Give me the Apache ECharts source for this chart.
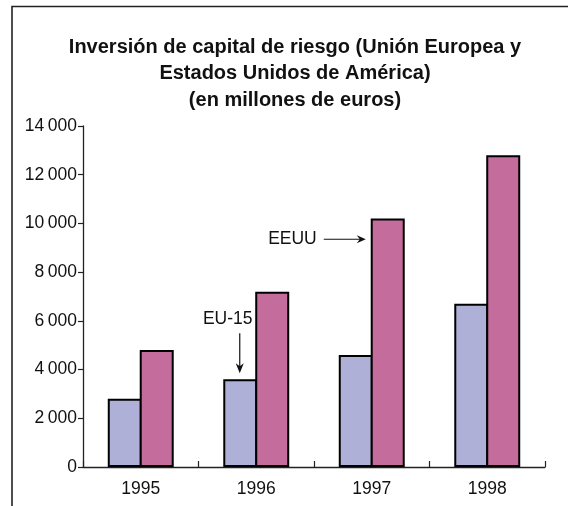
<!DOCTYPE html>
<html>
<head>
<meta charset="utf-8">
<script src="https://cdn.jsdelivr.net/npm/echarts@6/dist/echarts.min.js"></script>
<style>html,body{margin:0;padding:0;background:#fff}#c{width:568px;height:506px}</style>
</head>
<body>
<div id="c"></div>
<script>
var years = ['1995', '1996', '1997', '1998'];
var eu15 = [2800, 3600, 4600, 6700];
var eeuu = [4800, 7200, 10200, 12800];
var yTicks = [0, 2000, 4000, 6000, 8000, 10000, 12000, 14000];
var titleLines = ['Inversión de capital de riesgo (Unión Europea y', 'Estados Unidos de América)', '(en millones de euros)'];
var seriesNames = ['EU-15', 'EEUU'];

var FONT = "'Liberation Sans', Arial, sans-serif";
var chart = echarts.init(document.getElementById('c'), null, {renderer: 'canvas'});

function fmt(v) {
  var s = String(v);
  if (s.length > 3) s = s.slice(0, s.length - 3) + '\u2009' + s.slice(-3);
  return s;
}

var option = {
  animation: false,
  backgroundColor: '#fff',
  title: {
    text: titleLines.join('\n'),
    left: 290, top: 29, textAlign: 'center',
    textStyle: {fontFamily: FONT, fontSize: 20, fontWeight: 'bold', color: '#111', lineHeight: 26.5}
  },
  grid: {left: 83, right: 23, top: 126, bottom: 39},
  xAxis: {
    type: 'category', data: years,
    axisLine: {lineStyle: {color: '#222', width: 1.3}},
    axisTick: {show: true, inside: true, length: 6, alignWithLabel: false, lineStyle: {color: '#222', width: 1.2}},
    axisLabel: {fontFamily: FONT, fontSize: 17.5, color: '#111', margin: 13}
  },
  yAxis: {
    type: 'value', min: 0, max: 14000, interval: 2000,
    splitLine: {show: false},
    axisLine: {show: true, lineStyle: {color: '#222', width: 1.3}},
    axisTick: {show: true, length: 5, lineStyle: {color: '#222', width: 1.2}},
    axisLabel: {fontFamily: FONT, fontSize: 17.5, color: '#111', margin: 6,
      formatter: function (v) { return yTicks.indexOf(v) >= 0 ? fmt(v) : ''; }}
  },
  series: [
    {name: seriesNames[0], type: 'bar', data: eu15, barWidth: 34, barGap: '-6%',
     itemStyle: {color: '#aeb0d8', borderColor: '#000', borderWidth: 2}},
    {name: seriesNames[1], type: 'bar', data: eeuu, barWidth: 34, barGap: '-6%',
     itemStyle: {color: '#c46c9b', borderColor: '#000', borderWidth: 2}}
  ]
};
chart.setOption(option);

// annotations positioned from the axes
var c97 = chart.convertToPixel({xAxisIndex: 0}, '1997');
var c96 = chart.convertToPixel({xAxisIndex: 0}, '1996');
var bw = 33;
var yArrow = chart.convertToPixel({yAxisIndex: 0}, 9350);
var arrowTipX = c97 - 6;
var euX = c96 - bw / 2;
var euTop = chart.convertToPixel({yAxisIndex: 0}, eu15[1]);
var tipY = euTop - 6;

chart.setOption({
  graphic: [
    {type: 'polyline', shape: {points: [[12, 506], [12, 6.5], [568, 6.5]]}, style: {stroke: '#222', lineWidth: 1.6, fill: null}},
    {type: 'text', style: {text: seriesNames[1], x: arrowTipX - 49, y: yArrow, align: 'right', verticalAlign: 'middle', font: '17.5px ' + FONT, fill: '#111'}},
    {type: 'line', shape: {x1: arrowTipX - 42, y1: yArrow, x2: arrowTipX - 4, y2: yArrow}, style: {stroke: '#111', lineWidth: 1.2}},
    {type: 'polygon', shape: {points: [[arrowTipX, yArrow], [arrowTipX - 9, yArrow - 4], [arrowTipX - 6, yArrow], [arrowTipX - 9, yArrow + 4]]}, style: {fill: '#111'}},
    {type: 'text', style: {text: seriesNames[0], x: euX - 12, y: tipY - 54, align: 'center', verticalAlign: 'middle', font: '17.5px ' + FONT, fill: '#111'}},
    {type: 'line', shape: {x1: euX, y1: tipY - 40, x2: euX, y2: tipY - 4}, style: {stroke: '#111', lineWidth: 1.2}},
    {type: 'polygon', shape: {points: [[euX, tipY], [euX - 4, tipY - 10], [euX, tipY - 7], [euX + 4, tipY - 10]]}, style: {fill: '#111'}}
  ]
});
</script>
</body>
</html>
